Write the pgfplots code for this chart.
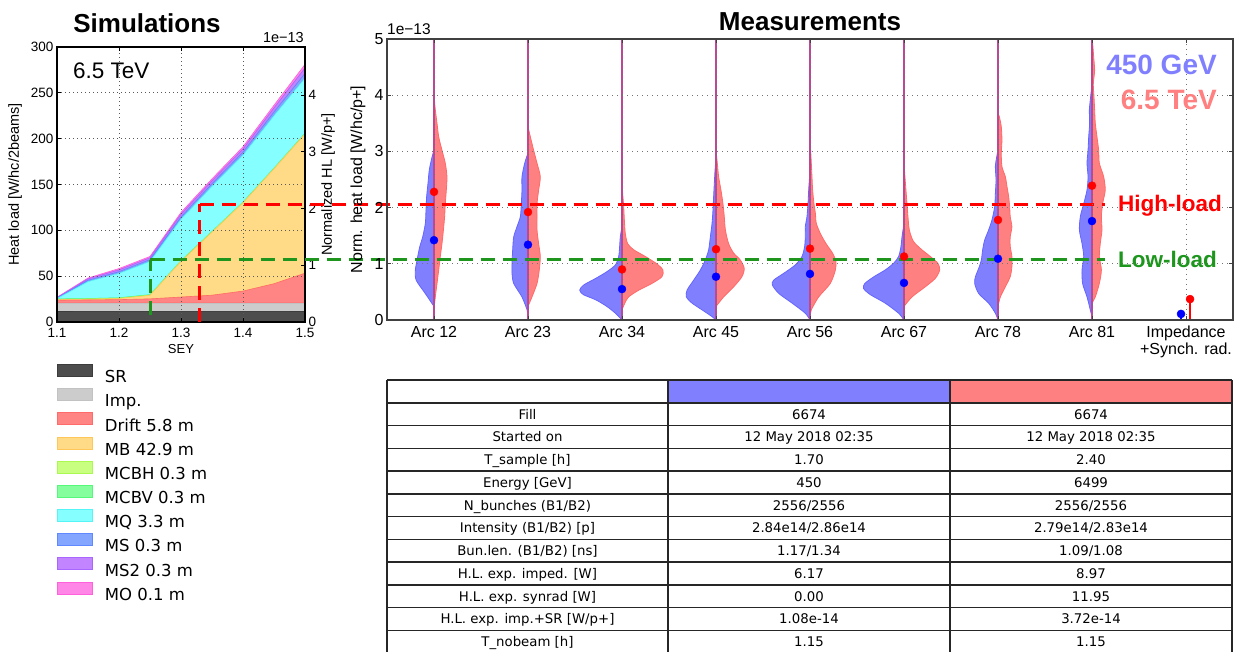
\documentclass[border=0pt]{standalone}
\usepackage{pgfplots}
\usepackage{pgfplotstable}
\pgfplotsset{compat=1.18}
\usepackage{fontspec}
\setmainfont{Liberation Sans}
\newfontfamily\dejavu{DejaVu Sans}
\newcommand{\fs}[2]{\fontsize{#1pt}{#2pt}\selectfont}
\newcommand{\ls}{\vrule height 14pt depth 2pt width 0pt}

\definecolor{cSR}{HTML}{4D4D4D}\definecolor{eSR}{HTML}{3C3C3C}
\definecolor{cImp}{HTML}{CCCCCC}\definecolor{eImp}{HTML}{C2C2C2}
\definecolor{cDrift}{HTML}{FF8585}\definecolor{eDrift}{HTML}{FF6A6A}
\definecolor{cMB}{HTML}{FFDB87}\definecolor{eMB}{HTML}{FFC75A}
\definecolor{cMCBH}{HTML}{C8FF80}\definecolor{eMCBH}{HTML}{AAF850}
\definecolor{cMCBV}{HTML}{85FF9E}\definecolor{eMCBV}{HTML}{55F878}
\definecolor{cMQ}{HTML}{85FFFF}\definecolor{eMQ}{HTML}{55F5F5}
\definecolor{cMS}{HTML}{85A6FF}\definecolor{eMS}{HTML}{6088FF}
\definecolor{cMSt}{HTML}{C285FF}\definecolor{eMSt}{HTML}{A866FF}
\definecolor{cMO}{HTML}{FF85E6}\definecolor{eMO}{HTML}{FF60DC}
\definecolor{vb}{RGB}{128,128,255}\definecolor{vbe}{RGB}{100,100,255}
\definecolor{vr}{RGB}{255,128,128}\definecolor{vre}{RGB}{255,105,105}
\definecolor{dgreen}{RGB}{30,150,30}
\definecolor{vline}{RGB}{190,70,150}

\pgfplotsset{
  bv/.style={fill=vb, draw=vbe, line width=0.8pt, smooth, tension=0.45},
  rv/.style={fill=vr, draw=vre, line width=0.8pt, smooth, tension=0.45},
  hl/.style={line width=3pt, dash pattern=on 14pt off 8pt},
}

\pgfplotstableread{
x SR Imp Drift MB MCBH MCBV MQ MS MSt MO
1.10 12 8.7 3.0 0.7 0.3 0.5 0.3 0.5 0.5 0.5
1.15 12 8.7 3.3 0.8 0.3 0.5 18.4 1.5 1.5 1.0
1.20 12 8.7 3.7 1.2 0.3 0.5 26.6 1.8 2.0 1.5
1.25 12 8.7 4.5 3.8 0.3 0.5 36.2 2.0 2.0 1.5
1.30 12 8.7 6.5 38.8 0.3 0.5 45.2 2.5 3.0 2.0
1.35 12 8.7 8.5 68.8 0.3 0.5 49.2 2.8 3.2 2.2
1.40 12 8.7 13.0 96.3 0.3 0.5 51.2 3.2 3.5 2.5
1.45 12 8.7 21.0 125.3 0.3 0.5 57.2 4.0 4.5 3.0
1.50 12 8.7 32.5 151.8 0.3 0.5 60.2 5.0 6.0 4.0
}\simdata

\newcommand{\vioB}[2]{\addplot[bv] table[row sep=\\, x expr={#1-\thisrow{w}}, y=y] {y w\\ #2};}
\newcommand{\vioR}[2]{\addplot[rv] table[row sep=\\, x expr={#1+\thisrow{w}}, y=y] {y w\\ #2};}
\newcommand{\trow}[4]{%
  \node at (527.5,{248-(#1+0.5)*22.73}) {#2};
  \node at (809,{248-(#1+0.5)*22.73}) {#3};
  \node at (1091,{248-(#1+0.5)*22.73}) {#4};}

\begin{document}
\begin{tikzpicture}
\useasboundingbox (0pt,0pt) rectangle (1240pt,651pt);
\clip (0pt,0pt) rectangle (1240pt,651pt);

% ---------------- Simulations (left) ----------------
\begin{axis}[
  at={(57pt,329pt)}, anchor=south west, scale only axis,
  width=248pt, height=275pt,
  xmin=1.1, xmax=1.5, ymin=0, ymax=300,
  xtick={1.1,1.2,1.3,1.4,1.5}, xticklabels={1.1,1.2,1.3,1.4,1.5},
  ytick={0,50,100,150,200,250,300},
  yticklabels={0,50,100,150,200,250,300},
  ytick pos=left,
  tick align=inside, major tick length=4pt,
  tick style={black, line width=0.8pt},
  axis line style={black, line width=1.2pt},
  tick label style={font=\fs{13.5}{16}},
  xticklabel style={yshift=-3pt},
  grid=major, grid style={black!65, line width=0.8pt, dash pattern=on 1pt off 3pt},
  axis on top, stack plots=y,
  xlabel={SEY}, xlabel style={font=\fs{13}{15}, at={(axis description cs:0.5,-0.098)}, anchor=center},
  ylabel={Heat load [W/hc/2beams]}, ylabel style={font=\fs{14.5}{17}, at={(axis description cs:-0.169,0.5)}, anchor=center},
  legend image code/.code={\draw[#1, line width=0.8pt] (0pt,0pt) rectangle (35pt,12pt);},
  legend style={at={(0,-0.1527)}, anchor=north west, draw=none, fill=none, inner sep=0pt,
    font=\dejavu\fs{16.5}{19}, nodes={inner sep=0pt}, row sep=4.0pt,
    /tikz/every odd column/.append style={column sep=12pt}},
  legend cell align=left,
]
\addplot[fill=cSR, draw=eSR, line width=0.6pt] table[x=x, y=SR] {\simdata} \closedcycle;
\addplot[fill=cImp, draw=eImp, line width=0.6pt] table[x=x, y=Imp] {\simdata} \closedcycle;
\addplot[fill=cDrift, draw=eDrift, line width=0.6pt] table[x=x, y=Drift] {\simdata} \closedcycle;
\addplot[fill=cMB, draw=eMB, line width=0.6pt] table[x=x, y=MB] {\simdata} \closedcycle;
\addplot[fill=cMCBH, draw=eMCBH, line width=0.6pt] table[x=x, y=MCBH] {\simdata} \closedcycle;
\addplot[fill=cMCBV, draw=eMCBV, line width=0.6pt] table[x=x, y=MCBV] {\simdata} \closedcycle;
\addplot[fill=cMQ, draw=eMQ, line width=0.6pt] table[x=x, y=MQ] {\simdata} \closedcycle;
\addplot[fill=cMS, draw=eMS, line width=0.6pt] table[x=x, y=MS] {\simdata} \closedcycle;
\addplot[fill=cMSt, draw=eMSt, line width=0.6pt] table[x=x, y=MSt] {\simdata} \closedcycle;
\addplot[fill=cMO, draw=eMO, line width=0.6pt] table[x=x, y=MO] {\simdata} \closedcycle;
\legend{{\ls SR},{\ls Imp.},{\ls Drift 5.8 m},{\ls MB 42.9 m},{\ls MCBH 0.3 m},{\ls MCBV 0.3 m},{\ls MQ 3.3 m},{\ls MS 0.3 m},{\ls MS2 0.3 m},{\ls MO 0.1 m}}
\end{axis}

% right-hand scale of the left plot
\begin{axis}[
  at={(57pt,329pt)}, anchor=south west, scale only axis,
  width=248pt, height=275pt,
  xmin=1.1, xmax=1.5, ymin=0, ymax=4.85,
  hide x axis, axis y line*=right, y axis line style={draw=none},
  ytick={0,1,2,3,4}, yticklabels={0,1,2,3,4},
  tick align=inside, major tick length=4pt, tick style={black, line width=0.8pt},
  tick label style={font=\fs{13.5}{16}},
  ylabel={Normalized HL [W/p+]}, ylabel style={font=\fs{14.5}{17}, at={(axis description cs:1.093,0.5)}, anchor=center},
  clip=false,
]
\addplot[red, hl] coordinates {(1.33,0) (1.33,2.081)};
\addplot[dgreen, hl] coordinates {(1.25,0.123) (1.25,1.093)};
\end{axis}

% ---------------- Measurements (right) ----------------
\begin{axis}[
  at={(387pt,331pt)}, anchor=south west, scale only axis,
  width=846pt, height=281pt,
  xmin=-0.5, xmax=8.5, ymin=0, ymax=5,
  xtick={0,1,2,3,4,5,6,7,8},
  xticklabels={Arc 12,Arc 23,Arc 34,Arc 45,Arc 56,Arc 67,Arc 78,Arc 81,{Impedance\\+Synch. rad.}},
  xticklabel style={align=center, font=\fs{16}{17}, yshift=-2.5pt},
  ytick={0,1,2,3,4,5}, yticklabels={0,1,2,3,4,5},
  yticklabel style={font=\fs{16}{18}},
  tick align=inside, major tick length=4pt, tick style={black!75, line width=0.8pt},
  axis line style={black!75, line width=1.8pt},
  grid=major, grid style={black!55, line width=0.9pt, dash pattern=on 1pt off 4pt},
  axis on top, clip=false,
  ylabel={Norm. heat load [W/hc/p+]}, ylabel style={font=\fs{16}{18}, at={(axis description cs:-0.0343,0.5)}, anchor=center},
]
% Arc 12
\vioB{0}{0.24 0\\0.47 0.092\\0.71 0.19\\0.89 0.198\\1.07 0.18\\1.3 0.152\\1.48 0.12\\1.72 0.092\\1.96 0.085\\2.2 0.078\\2.43 0.064\\2.67 0.05\\2.9 0.021\\3.02 0\\}
\vioR{0}{0.2 0\\0.41 0.014\\0.65 0.032\\0.89 0.05\\1.13 0.067\\1.36 0.085\\1.6 0.1\\1.84 0.113\\2.07 0.12\\2.31 0.131\\2.55 0.138\\2.79 0.12\\3.02 0.085\\3.26 0.05\\3.5 0.032\\3.74 0.014\\4.0 0\\}
% Arc 23
\vioB{1}{0.06 0\\0.18 0.01\\0.41 0.064\\0.65 0.152\\0.83 0.17\\1.01 0.17\\1.25 0.163\\1.48 0.152\\1.66 0.117\\1.84 0.081\\2.07 0.071\\2.31 0.064\\2.55 0.064\\2.79 0.035\\2.97 0\\}
\vioR{1}{0.24 0\\0.41 0.042\\0.65 0.096\\0.89 0.12\\1.13 0.131\\1.36 0.113\\1.6 0.096\\1.84 0.096\\2.07 0.096\\2.31 0.113\\2.55 0.131\\2.79 0.096\\3.02 0.06\\3.26 0.025\\3.44 0\\}
% Arc 34
\vioB{2}{0 0\\0.12 0.07\\0.24 0.16\\0.36 0.28\\0.45 0.41\\0.53 0.45\\0.62 0.41\\0.74 0.28\\0.86 0.16\\0.98 0.07\\1.13 0.035\\1.31 0.025\\1.48 0.018\\1.66 0\\}
\vioR{2}{0.18 0\\0.3 0.03\\0.41 0.07\\0.53 0.177\\0.65 0.318\\0.77 0.425\\0.89 0.435\\1.0 0.37\\1.13 0.248\\1.25 0.124\\1.36 0.06\\1.54 0.035\\1.78 0.025\\2.02 0.018\\2.25 0.007\\2.43 0\\}
% Arc 45
\vioB{3}{0 0\\0.06 0.042\\0.18 0.148\\0.3 0.255\\0.41 0.315\\0.53 0.308\\0.71 0.237\\0.89 0.166\\1.07 0.113\\1.25 0.078\\1.48 0.06\\1.72 0.042\\1.96 0.032\\2.2 0.025\\2.43 0.018\\2.67 0.01\\2.9 0\\}
\vioR{3}{0.24 0\\0.41 0.081\\0.59 0.188\\0.77 0.276\\0.92 0.3\\1.07 0.258\\1.19 0.188\\1.36 0.134\\1.6 0.1\\1.84 0.088\\2.07 0.074\\2.31 0.053\\2.55 0.028\\2.79 0.014\\3.02 0\\}
% Arc 56
\vioB{4}{0 0\\0.12 0.05\\0.3 0.19\\0.47 0.33\\0.62 0.4\\0.71 0.386\\0.83 0.28\\0.98 0.156\\1.13 0.085\\1.31 0.057\\1.48 0.05\\1.66 0.05\\1.84 0.032\\2.07 0.021\\2.31 0.014\\2.67 0\\}
\vioR{4}{0.06 0\\0.18 0.014\\0.41 0.092\\0.65 0.216\\0.89 0.27\\1.04 0.276\\1.19 0.24\\1.36 0.17\\1.54 0.11\\1.72 0.067\\1.9 0.057\\2.07 0.042\\2.31 0.028\\2.55 0.021\\2.79 0.014\\3.02 0.007\\3.2 0\\}
% Arc 67
\vioB{5}{0 0\\0.12 0.057\\0.3 0.2\\0.45 0.357\\0.56 0.43\\0.65 0.417\\0.77 0.32\\0.89 0.2\\1.01 0.11\\1.13 0.057\\1.31 0.032\\1.48 0.021\\1.72 0\\}
\vioR{5}{0.24 0\\0.41 0.085\\0.59 0.226\\0.74 0.333\\0.89 0.38\\1.01 0.36\\1.13 0.28\\1.25 0.19\\1.4 0.1\\1.6 0.057\\1.84 0.042\\2.07 0.032\\2.31 0.021\\2.55 0.01\\2.79 0\\}
% Arc 78
\vioB{6}{0 0\\0.12 0.028\\0.3 0.1\\0.47 0.205\\0.65 0.248\\0.77 0.24\\0.92 0.205\\1.07 0.177\\1.25 0.163\\1.42 0.142\\1.6 0.1\\1.78 0.064\\2.02 0.035\\2.25 0.028\\2.49 0.021\\2.73 0.028\\2.9 0.014\\3.02 0\\}
\vioR{6}{0.24 0\\0.41 0.025\\0.59 0.078\\0.77 0.13\\0.95 0.148\\1.13 0.148\\1.31 0.13\\1.48 0.13\\1.66 0.148\\1.84 0.13\\2.02 0.124\\2.2 0.113\\2.37 0.096\\2.55 0.078\\2.73 0.042\\2.96 0.035\\3.2 0.042\\3.44 0.035\\3.62 0.014\\3.68 0\\}
% Arc 81
\vioB{7}{0.06 0\\0.18 0.018\\0.41 0.053\\0.65 0.1\\0.89 0.106\\1.13 0.088\\1.36 0.106\\1.6 0.134\\1.84 0.124\\2.07 0.088\\2.31 0.053\\2.55 0.042\\2.79 0.053\\3.02 0.042\\3.26 0.035\\3.5 0.025\\3.74 0.028\\3.98 0.014\\4.2 0\\}
\vioR{7}{0.3 0\\0.41 0.035\\0.65 0.078\\0.89 0.1\\1.13 0.078\\1.36 0.088\\1.6 0.106\\1.84 0.1\\2.07 0.113\\2.31 0.141\\2.55 0.124\\2.79 0.078\\3.02 0.071\\3.26 0.053\\3.5 0.035\\3.74 0.028\\3.98 0.021\\4.2 0.014\\4.44 0.028\\4.68 0.018\\4.92 0.007\\5 0\\}
% vertical extrema lines
\addplot[vline, line width=1.5pt] coordinates {(0,0) (0,5)};
\addplot[vline, line width=1.5pt] coordinates {(1,0) (1,5)};
\addplot[vline, line width=1.5pt] coordinates {(2,0) (2,5)};
\addplot[vline, line width=1.5pt] coordinates {(3,0) (3,5)};
\addplot[vline, line width=1.5pt] coordinates {(4,0) (4,5)};
\addplot[vline, line width=1.5pt] coordinates {(5,0) (5,5)};
\addplot[vline, line width=1.5pt] coordinates {(6,0) (6,5)};
\addplot[vline, line width=1.5pt] coordinates {(7,0) (7,5)};
% reference lines
\addplot[red, hl] coordinates {(-2.494,2.064) (7.138,2.064)};
\addplot[dgreen, hl] coordinates {(-3.016,1.068) (7.138,1.068)};
% mean values
\addplot[only marks, mark=*, mark size=4pt, color=blue] coordinates {(0,1.42) (1,1.34) (2,0.55) (3,0.77) (4,0.82) (5,0.66) (6,1.09) (7,1.76)};
\addplot[only marks, mark=*, mark size=4pt, color=red] coordinates {(0,2.28) (1,1.92) (2,0.9) (3,1.26) (4,1.27) (5,1.13) (6,1.78) (7,2.39)};
% impedance + synchrotron radiation
\addplot[ycomb, blue, line width=2pt, mark=*, mark size=4pt, mark options={line width=0.5pt}] coordinates {(7.947,0.108)};
\addplot[ycomb, red, line width=2pt, mark=*, mark size=4pt, mark options={line width=0.5pt}] coordinates {(8.043,0.372)};
\end{axis}

% ---------------- free texts ----------------
\node[anchor=base, inner sep=0pt, font=\bfseries\fs{26}{30}] at (147pt,618pt) {Simulations};
\node[anchor=base, inner sep=0pt, font=\bfseries\fs{26}{30}] at (810pt,620pt) {Measurements};
\node[anchor=base west, inner sep=0pt, font=\fs{22.5}{26}] at (73pt,572.7pt) {6.5 TeV};
\node[anchor=base east, inner sep=0pt, font=\fs{14.5}{17}] at (304pt,608pt) {1e−13};
\node[anchor=base west, inner sep=0pt, font=\fs{15.5}{18}] at (387pt,616pt) {1e−13};
\node[anchor=base east, inner sep=0pt, font=\bfseries\fs{28}{32}, text=vb] at (1217pt,576pt) {450 GeV};
\node[anchor=base east, inner sep=0pt, font=\bfseries\fs{28}{32}, text=vr] at (1217pt,541pt) {6.5 TeV};
\node[anchor=base west, inner sep=0pt, font=\bfseries\fs{22.5}{26}, text=red] at (1118pt,439pt) {High-load};
\node[anchor=base west, inner sep=0pt, font=\bfseries\fs{22.5}{26}, text=dgreen] at (1118pt,383pt) {Low-load};

% ---------------- table ----------------
\begin{scope}[x=1pt, y=1pt, every node/.style={font=\dejavu\fs{13.3}{15}, inner sep=0pt, text height=9.7pt, text depth=0pt}]
\fill[vb] (668,248) rectangle (950,271);
\fill[vr] (950,248) rectangle (1232,271);
\draw[black!85, line width=1.5pt] (387,271) -- (1232,271);
\foreach \i in {0,...,11} {\draw[black!85, line width=1.5pt] (387,{248-\i*22.73}) -- (1232,{248-\i*22.73});}
\foreach \xx in {387,668,950,1232} {\draw[black!85, line width=1.5pt] (\xx,271) -- (\xx,-5);}
\trow{0}{Fill}{6674}{6674}
\trow{1}{Started on}{12 May 2018 02:35}{12 May 2018 02:35}
\trow{2}{T\_sample [h]}{1.70}{2.40}
\trow{3}{Energy [GeV]}{450}{6499}
\trow{4}{N\_bunches (B1/B2)}{2556/2556}{2556/2556}
\trow{5}{Intensity (B1/B2) [p]}{2.84e14/2.86e14}{2.79e14/2.83e14}
\trow{6}{Bun.len. (B1/B2) [ns]}{1.17/1.34}{1.09/1.08}
\trow{7}{H.L. exp. imped. [W]}{6.17}{8.97}
\trow{8}{H.L. exp. synrad [W]}{0.00}{11.95}
\trow{9}{H.L. exp. imp.+SR [W/p+]}{1.08e-14}{3.72e-14}
\trow{10}{T\_nobeam [h]}{1.15}{1.15}
\end{scope}
\end{tikzpicture}
\end{document}
